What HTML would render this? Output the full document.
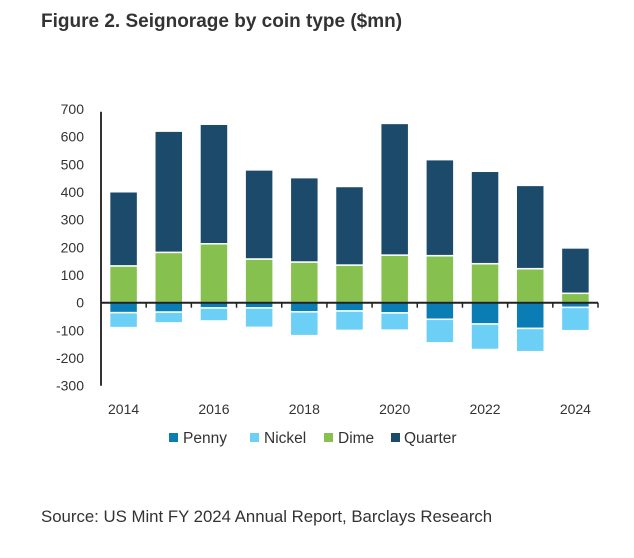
<!DOCTYPE html>
<html><head><meta charset="utf-8"><style>
body{margin:0;background:#fff;font-family:"Liberation Sans",sans-serif;}
svg{display:block}
</style></head><body>
<svg width="634" height="558">
<text x="41" y="27" font-size="19" font-weight="bold" fill="#333">Figure 2. Seignorage by coin type ($mn)</text>
<g id="yt"></g><g id="bars"></g><g id="xt"></g>
<g font-size="15.5" fill="#333">
<rect x="169" y="433" width="9" height="9" fill="#0a7db5"/>
<text x="183" y="443">Penny</text>
<rect x="250" y="433" width="9" height="9" fill="#6ccff6"/>
<text x="264" y="443">Nickel</text>
<rect x="324" y="433" width="9" height="9" fill="#86c150"/>
<text x="338" y="443">Dime</text>
<rect x="391" y="433" width="9" height="9" fill="#1c4a6a"/>
<text x="404" y="443">Quarter</text>
</g>
<text x="41" y="522" font-size="16.8" fill="#333">Source: US Mint FY 2024 Annual Report, Barclays Research</text>
</svg>
<script>
const years=[2014,2015,2016,2017,2018,2019,2020,2021,2022,2023,2024];
const penny=[-36,-34,-19,-19,-33,-30,-37,-60,-77,-93,-17];
const nickel=[-54,-39,-47,-70,-86,-70,-62,-85,-92,-84,-84];
const dime=[133,182,213,158,147,136,172,170,141,123,34];
const quarter=[268,438,432,322,305,284,476,347,334,301,164];
const yTicks=[700,600,500,400,300,200,100,0,-100,-200,-300];
const xLabels=["2014","2016","2018","2020","2022","2024"];
const NS="http://www.w3.org/2000/svg";
const svg=document.querySelector('svg');
const x0=101,x1=598,yZero=302.7,pxPer=0.2767;
const y=v=>yZero-v*pxPer;
const step=(x1-x0)/years.length;
const cx=i=>x0+step*(i+0.5);
function mk(tag,attrs,parent){const e=document.createElementNS(NS,tag);for(const k in attrs)e.setAttribute(k,attrs[k]);parent.appendChild(e);return e;}
const yt=document.getElementById('yt'),bars=document.getElementById('bars'),xt=document.getElementById('xt');
yTicks.forEach(t=>{const e=mk('text',{x:84,y:y(t)+5,'text-anchor':'end','font-size':14,fill:'#333'},yt);e.textContent=t;

});
const bw=28;
function seg(i,a,b,col,name){const top=y(Math.max(a,b)),bot=y(Math.min(a,b));
const r=mk('rect',{x:cx(i)-bw/2,y:top,width:bw,height:Math.max(0,bot-top),fill:col,stroke:'#fff','stroke-width':1.5},bars);

}
years.forEach((yr,i)=>{
seg(i,0,dime[i],'#86c150','dime');
seg(i,dime[i],dime[i]+quarter[i],'#1c4a6a','quarter');
seg(i,0,penny[i],'#0a7db5','penny');
seg(i,penny[i],penny[i]+nickel[i],'#6ccff6','nickel');
});
const ya=mk('line',{x1:x0,x2:x0,y1:y(690),y2:y(-300),stroke:'#333','stroke-width':2},xt);


const xa=mk('line',{x1:x0,x2:x1,y1:yZero,y2:yZero,stroke:'#222','stroke-width':2},xt);


for(let i=1;i<=years.length;i++){const tx=x0+step*i;mk('line',{x1:tx,x2:tx,y1:yZero,y2:yZero+5,stroke:'#222','stroke-width':1.5},xt);}
xLabels.forEach(l=>{const i=years.indexOf(+l);const e=mk('text',{x:cx(i),y:414,'text-anchor':'middle','font-size':14,fill:'#333'},xt);e.textContent=l;

});
</script>
</body></html>
